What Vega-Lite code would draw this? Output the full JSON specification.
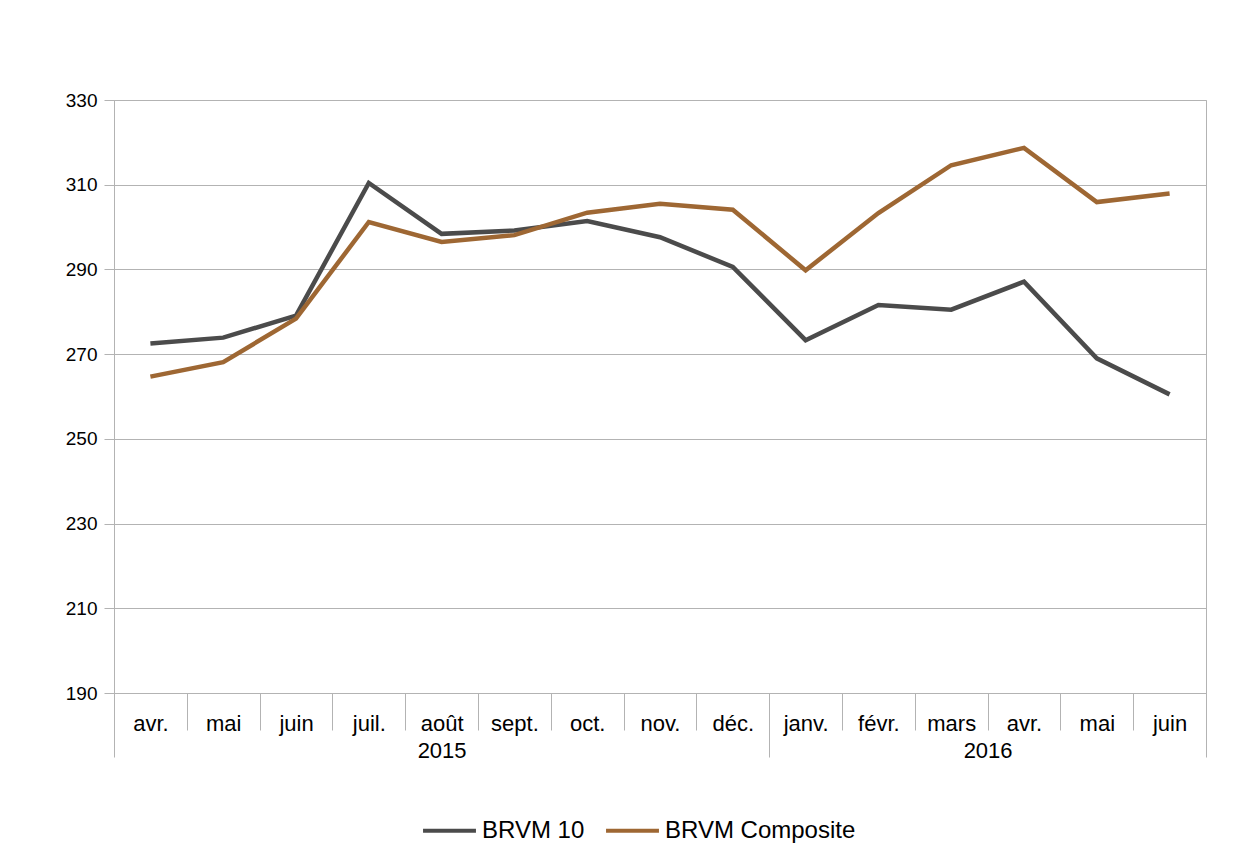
{
  "$schema": "https://vega.github.io/schema/vega-lite/v6.json",
  "width": 1092,
  "height": 593,
  "padding": {"left": 65, "top": 91, "right": 0, "bottom": 0},
  "background": "white",
  "data": {
    "values": [
      {"mois": "avr. 2015", "serie": "BRVM 10", "valeur": 272.5},
      {"mois": "mai 2015", "serie": "BRVM 10", "valeur": 273.9},
      {"mois": "juin 2015", "serie": "BRVM 10", "valeur": 279.1},
      {"mois": "juil. 2015", "serie": "BRVM 10", "valeur": 310.4},
      {"mois": "août 2015", "serie": "BRVM 10", "valeur": 298.4},
      {"mois": "sept. 2015", "serie": "BRVM 10", "valeur": 299.2},
      {"mois": "oct. 2015", "serie": "BRVM 10", "valeur": 301.4},
      {"mois": "nov. 2015", "serie": "BRVM 10", "valeur": 297.6},
      {"mois": "déc. 2015", "serie": "BRVM 10", "valeur": 290.6},
      {"mois": "janv. 2016", "serie": "BRVM 10", "valeur": 273.3},
      {"mois": "févr. 2016", "serie": "BRVM 10", "valeur": 281.6},
      {"mois": "mars 2016", "serie": "BRVM 10", "valeur": 280.5},
      {"mois": "avr. 2016", "serie": "BRVM 10", "valeur": 287.1},
      {"mois": "mai 2016", "serie": "BRVM 10", "valeur": 269.0},
      {"mois": "juin 2016", "serie": "BRVM 10", "valeur": 260.5},
      {"mois": "avr. 2015", "serie": "BRVM Composite", "valeur": 264.7},
      {"mois": "mai 2015", "serie": "BRVM Composite", "valeur": 268.1},
      {"mois": "juin 2015", "serie": "BRVM Composite", "valeur": 278.4},
      {"mois": "juil. 2015", "serie": "BRVM Composite", "valeur": 301.2},
      {"mois": "août 2015", "serie": "BRVM Composite", "valeur": 296.5},
      {"mois": "sept. 2015", "serie": "BRVM Composite", "valeur": 298.1},
      {"mois": "oct. 2015", "serie": "BRVM Composite", "valeur": 303.4},
      {"mois": "nov. 2015", "serie": "BRVM Composite", "valeur": 305.5},
      {"mois": "déc. 2015", "serie": "BRVM Composite", "valeur": 304.1},
      {"mois": "janv. 2016", "serie": "BRVM Composite", "valeur": 289.8},
      {"mois": "févr. 2016", "serie": "BRVM Composite", "valeur": 303.3},
      {"mois": "mars 2016", "serie": "BRVM Composite", "valeur": 314.6},
      {"mois": "avr. 2016", "serie": "BRVM Composite", "valeur": 318.7},
      {"mois": "mai 2016", "serie": "BRVM Composite", "valeur": 305.9},
      {"mois": "juin 2016", "serie": "BRVM Composite", "valeur": 307.9}
    ]
  },
  "encoding": {
    "y": {
      "field": "valeur",
      "type": "quantitative",
      "scale": {"domain": [190, 330], "zero": false, "nice": false},
      "axis": {
        "title": null,
        "values": [190, 210, 230, 250, 270, 290, 310, 330],
        "tickSize": 10,
        "labelPadding": 7,
        "labelFontSize": 19,
        "labelColor": "#000000",
        "grid": true,
        "gridColor": "#b3b3b3",
        "tickColor": "#b3b3b3",
        "domainColor": "#b3b3b3"
      }
    },
    "color": {
      "field": "serie",
      "type": "nominal",
      "scale": {"domain": ["BRVM 10", "BRVM Composite"], "range": ["#4b4b4b", "#9e6733"]},
      "legend": {
        "title": null,
        "orient": "none",
        "legendX": 307,
        "legendY": 702,
        "direction": "horizontal",
        "symbolType": "stroke",
        "symbolStrokeWidth": 4,
        "symbolSize": 2800,
        "labelFontSize": 24,
        "labelLimit": 400,
        "labelColor": "#000000",
        "columnPadding": 13,
        "labelOffset": 4
      }
    }
  },
  "layer": [
    {
      "transform": [{"filter": "datum.serie == 'BRVM 10'"}],
      "mark": {"type": "line", "strokeWidth": 4.5},
      "encoding": {
        "x": {
          "field": "mois",
          "type": "ordinal",
          "sort": ["avr. 2015", "mai 2015", "juin 2015", "juil. 2015", "août 2015", "sept. 2015", "oct. 2015", "nov. 2015", "déc. 2015", "janv. 2016", "févr. 2016", "mars 2016", "avr. 2016", "mai 2016", "juin 2016"],
          "bandPosition": 0.5,
          "scale": {"type": "band", "paddingInner": 0, "paddingOuter": 0},
          "axis": {
            "orient": "bottom",
            "title": null,
            "tickBand": "extent",
            "tickSize": 37,
            "tickColor": "#b3b3b3",
            "domainColor": "#b3b3b3",
            "labelPadding": -17,
            "labelAngle": 0,
            "labelFontSize": 22,
            "labelColor": "#000000",
            "labelBaseline": "top",
            "labelExpr": "split(datum.label, ' ')[0]",
            "grid": false,
            "offset": 0
          }
        }
      }
    },
    {
      "transform": [{"filter": "datum.serie == 'BRVM Composite'"}],
      "mark": {"type": "line", "strokeWidth": 4.5},
      "encoding": {
        "x": {
          "field": "mois",
          "type": "ordinal",
          "sort": ["avr. 2015", "mai 2015", "juin 2015", "juil. 2015", "août 2015", "sept. 2015", "oct. 2015", "nov. 2015", "déc. 2015", "janv. 2016", "févr. 2016", "mars 2016", "avr. 2016", "mai 2016", "juin 2016"],
          "bandPosition": 0.5,
          "scale": {"type": "band", "paddingInner": 0, "paddingOuter": 0},
          "axis": {
            "orient": "bottom",
            "title": null,
            "tickBand": "extent",
            "domain": false,
            "tickColor": "#b3b3b3",
            "tickSize": {"condition": {"test": "datum.value == 'déc. 2015' || datum.value == 'juin 2016' || datum.extra", "value": 64}, "value": 0},
            "labelExpr": "datum.value == 'août 2015' ? '2015' : datum.value == 'mars 2016' ? '2016' : ''",
            "labelPadding": 47,
            "labelOffset": {"condition": {"test": "datum.value == 'mars 2016'", "value": 36.4}, "value": 0},
            "labelAngle": 0,
            "labelFontSize": 22,
            "labelColor": "#000000",
            "labelBaseline": "top",
            "grid": false,
            "offset": 0
          }
        }
      }
    }
  ],
  "resolve": {"axis": {"x": "independent"}},
  "config": {
    "font": "Liberation Sans",
    "view": {"stroke": "#b3b3b3"}
  }
}
